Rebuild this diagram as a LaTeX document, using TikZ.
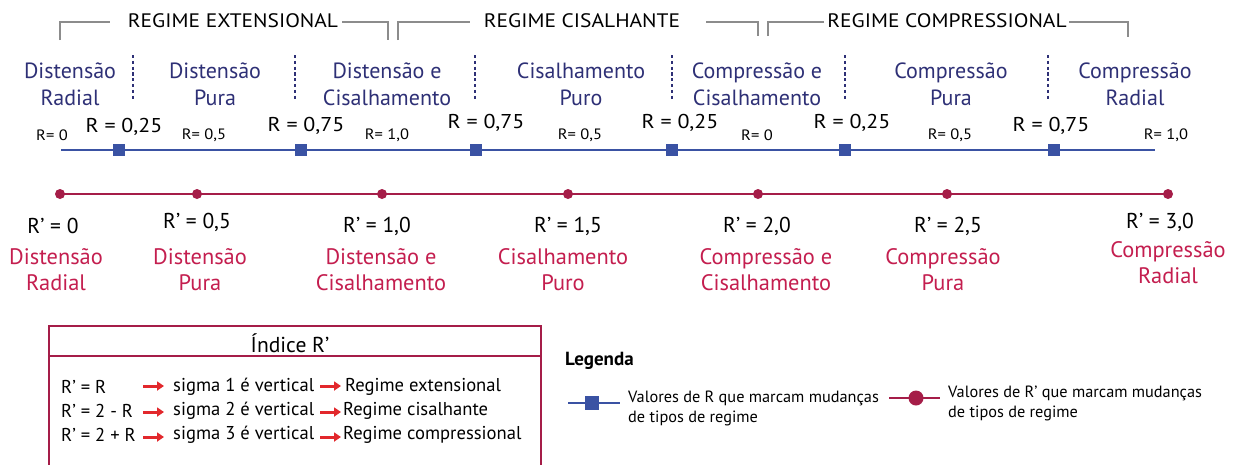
\documentclass[tikz,border=0pt]{standalone}
\usepackage{fontspec}
\setmainfont{PT Sans}
\newfontfamily\widefont{PT Sans}[FakeStretch=1.1]
\usetikzlibrary{arrows.meta}
\definecolor{navy}{HTML}{2E3076}
\definecolor{rblue}{HTML}{3A52A3}
\definecolor{crim}{HTML}{A51D48}
\definecolor{crimtxt}{HTML}{C41E4F}
\definecolor{brgray}{HTML}{8C8C8C}
\definecolor{arrred}{HTML}{E2282C}
\begin{document}
\begin{tikzpicture}[x=1pt,y=-1pt,
  regtitle/.style={font=\widefont\fontsize{19.5}{22}\selectfont, text=black, inner sep=0pt, anchor=center},
  bracket/.style={draw=brgray, line width=2.6pt},
  bluelab/.style={font=\fontsize{22}{27}\selectfont, text=navy, align=center, inner sep=0pt},
  sep/.style={draw=navy, line width=2.2pt, dash pattern=on 3.2pt off 2.6pt},
  smallR/.style={font=\widefont\fontsize{15}{17}\selectfont, inner sep=0pt},
  bigR/.style={font=\widefont\fontsize{20}{24}\selectfont, inner sep=0pt},
  bsq/.style={fill=rblue, minimum size=12pt, inner sep=0pt},
  rdot/.style={circle, fill=crim, minimum size=10pt, inner sep=0pt},
  rlab/.style={font=\fontsize{21.5}{24}\selectfont, inner sep=0pt},
  redlab/.style={font=\fontsize{22.4}{26}\selectfont, text=crimtxt, align=center, inner sep=0pt},
  tabtxt/.style={font=\fontsize{18.6}{22}\selectfont, inner sep=0pt, anchor=west},
  rarr/.style={draw=arrred, line width=3pt, -{Triangle[length=7pt,width=9pt]}},
  legtxt/.style={font=\fontsize{16.3}{20}\selectfont, inner sep=0pt, anchor=north west, align=left},
]
\clip (0,0) rectangle (1238,464);
\fill[white] (0,0) rectangle (1238,464);

% ---- top regime titles and brackets
\node[regtitle] (t1) at (233,21) {REGIME EXTENSIONAL};
\node[regtitle] (t2) at (582,21) {REGIME CISALHANTE};
\node[regtitle] (t3) at (947,21) {REGIME COMPRESSIONAL};
\coordinate (b1a) at (60,40);  \coordinate (b1b) at (388,40);
\coordinate (b2a) at (398,40); \coordinate (b2b) at (758,36);
\coordinate (b3a) at (768,36); \coordinate (b3b) at (1128,37);
\draw[bracket] (b1a) |- (110,22);
\draw[bracket] (342,22) -| (b1b);
\draw[bracket] (b2a) |- (470,22);
\draw[bracket] (706,22) -| (b2b);
\draw[bracket] (b3a) |- (824,22);
\draw[bracket] (1069,22) -| (b3b);

% ---- blue regime labels
\node[bluelab] (l1) at (70,84.5)  {Distensão\\Radial};
\node[bluelab] (l2) at (215,84.5) {Distensão\\Pura};
\node[bluelab] (l3) at (387,84.5) {Distensão e\\Cisalhamento};
\node[bluelab] (l4) at (581,84.5) {Cisalhamento\\Puro};
\node[bluelab] (l5) at (757,84.5) {Compressão e\\Cisalhamento};
\node[bluelab] (l6) at (951,84.5) {Compressão\\Pura};
\node[bluelab] (l7) at (1135,84.5){Compressão\\Radial};
\foreach \x/\n in {133/s1,295/s2,475/s3,672/s4,845/s5,1048/s6}{
  \coordinate (\n a) at (\x,55); \coordinate (\n b) at (\x,100);
  \draw[sep] (\n a) -- (\n b);
}

% ---- R labels
\node[smallR] (r0a) at (52,135)  {R= 0};
\node[smallR] (r0b) at (204,135) {R= 0,5};
\node[smallR] (r0c) at (387,135) {R= 1,0};
\node[smallR] (r0d) at (580,135) {R= 0,5};
\node[smallR] (r0e) at (757,135) {R= 0};
\node[smallR] (r0f) at (950,135) {R= 0,5};
\node[smallR] (r0g) at (1166,135){R= 1,0};
\node[bigR] (R1) at (124,127) {R = 0,25};
\node[bigR] (R2) at (306,126) {R = 0,75};
\node[bigR] (R3) at (486,123) {R = 0,75};
\node[bigR] (R4) at (680,123) {R = 0,25};
\node[bigR] (R5) at (852,123) {R = 0,25};
\node[bigR] (R6) at (1051,126){R = 0,75};

% ---- blue line with squares
\coordinate (bl0) at (61,150); \coordinate (bl1) at (1155,150);
\draw[rblue, line width=1.8pt] (bl0) -- (bl1);
\foreach \x/\n in {119/q1,301/q2,476/q3,672/q4,845/q5,1054/q6}
  \node[bsq] (\n) at (\x,150) {};

% ---- red line with dots
\foreach \x/\n in {60/d0,197/d1,382/d2,568/d3,758/d4,947/d5,1168/d6}
  \coordinate (\n) at (\x,194);
\draw[crim, line width=2.8pt] (d0) -- (d6);
\foreach \n in {d0,d1,d2,d3,d4,d5,d6} \node[rdot] (\n dot) at (\n) {};

% ---- R' labels
\node[rlab] (p0) at (53,226)  {R’ = 0};
\node[rlab] (p1) at (197,222) {R’ = 0,5};
\node[rlab] (p2) at (377,226) {R’ = 1,0};
\node[rlab] (p3) at (568,226) {R’ = 1,5};
\node[rlab] (p4) at (757,226) {R’ = 2,0};
\node[rlab] (p5) at (948,226) {R’ = 2,5};
\node[rlab] (p6) at (1160,222){R’ = 3,0};
\node[redlab] (m0) at (56,270)  {Distensão\\Radial};
\node[redlab] (m1) at (200,270) {Distensão\\Pura};
\node[redlab] (m2) at (381,270) {Distensão e\\Cisalhamento};
\node[redlab] (m3) at (563,270) {Cisalhamento\\Puro};
\node[redlab] (m4) at (766,270) {Compressão e\\Cisalhamento};
\node[redlab] (m5) at (943,270) {Compressão\\Pura};
\node[redlab] (m6) at (1168,262.5){Compressão\\Radial};

% ---- index box
\coordinate (bx0) at (49,326); \coordinate (bx1) at (541,470);
\draw[crim, line width=2.4pt] (bx0) rectangle (bx1);
\coordinate (hl0) at (49,356); \coordinate (hl1) at (541,356);
\draw[crim, line width=1.4pt] (hl0) -- (hl1);
\node[font=\fontsize{21.6}{24}\selectfont, inner sep=0pt] (hdr) at (290,343) {Índice R’};

\node[tabtxt] (e1) at (61,387) {R’ = R};
\node[tabtxt] (e2) at (61,411) {R’ = 2 - R};
\node[tabtxt] (e3) at (61,435) {R’ = 2 + R};
\node[tabtxt] (s1t) at (173,387) {sigma 1 é vertical};
\node[tabtxt] (s2t) at (173,411) {sigma 2 é vertical};
\node[tabtxt] (s3t) at (173,435) {sigma 3 é vertical};
\node[tabtxt] (g1) at (345,387) {Regime extensional};
\node[tabtxt] (g2) at (343,411) {Regime cisalhante};
\node[tabtxt] (g3) at (343,435) {Regime compressional};
\draw[rarr] ([xshift=-30pt,yshift=1pt]s1t.west) -- ([xshift=-9pt,yshift=1pt]s1t.west);
\draw[rarr] ([xshift=-30pt,yshift=-1pt]s2t.west) -- ([xshift=-9pt,yshift=-1pt]s2t.west);
\draw[rarr] ([xshift=-30pt,yshift=-2pt]s3t.west) -- ([xshift=-9pt,yshift=-2pt]s3t.west);
\draw[rarr] ([xshift=-25pt,yshift=1pt]g1.west) -- ([xshift=-4pt,yshift=1pt]g1.west);
\draw[rarr] ([xshift=-23pt,yshift=-1pt]g2.west) -- ([xshift=-2pt,yshift=-1pt]g2.west);
\draw[rarr] ([xshift=-23pt,yshift=-2pt]g3.west) -- ([xshift=-2pt,yshift=-2pt]g3.west);

% ---- legend
\node[font=\bfseries\fontsize{19}{22}\selectfont, inner sep=0pt, anchor=west] (leg) at (565,361) {Legenda};
\coordinate (lb0) at (568,403); \coordinate (lb1) at (620,403);
\draw[rblue, line width=1.8pt] (lb0) -- (lb1);
\node[bsq, minimum size=14pt] (lq) at (592,403) {};
\node[legtxt] (lt1) at (628,391) {Valores de R que marcam mudanças\\de tipos de regime};
\coordinate (lr0) at (889,398); \coordinate (lr1) at (940,398);
\draw[crim, line width=2.8pt] (lr0) -- (lr1);
\node[rdot, minimum size=15pt] (ld) at (916,398) {};
\node[legtxt] (lt2) at (948,386) {Valores de R’ que marcam mudanças\\de tipos de regime};
\end{tikzpicture}
\end{document}
